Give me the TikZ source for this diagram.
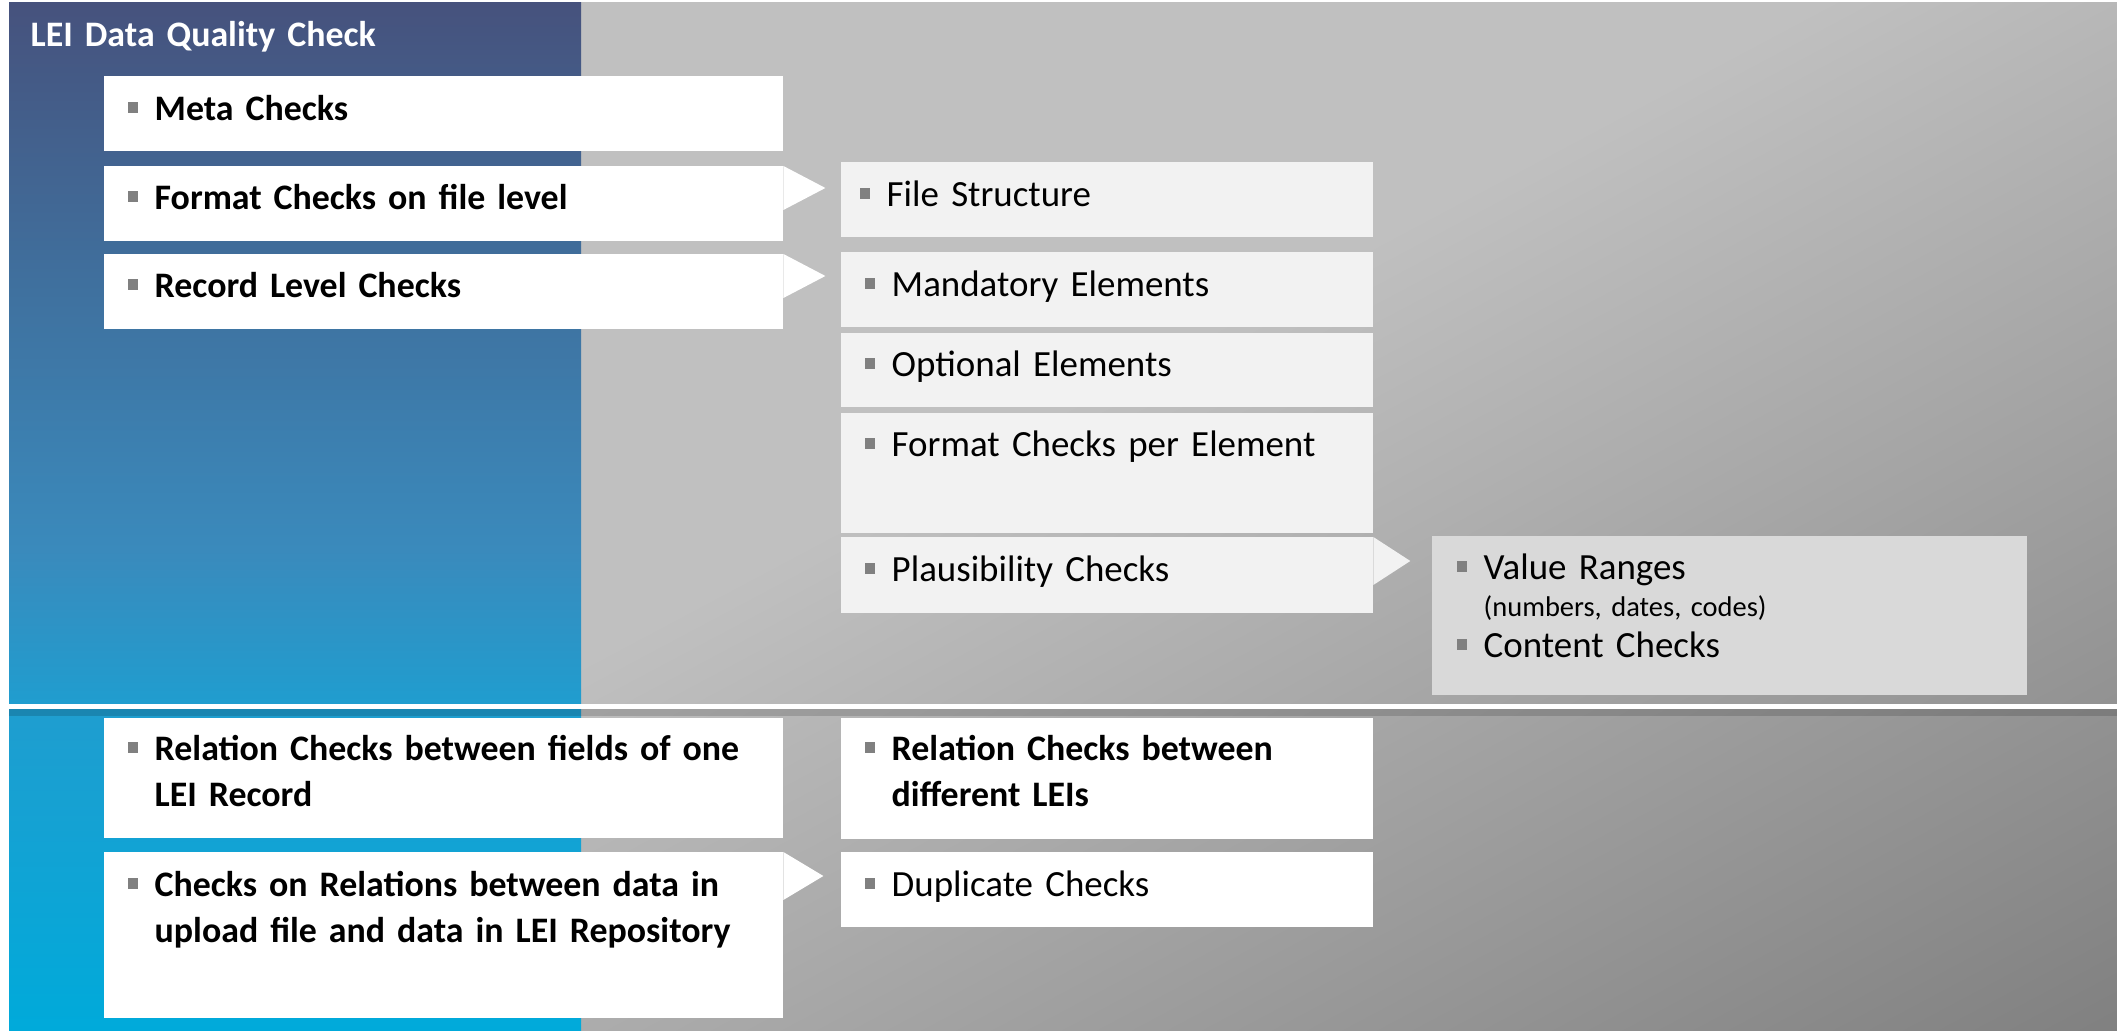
\documentclass[tikz,border=0pt]{standalone}
\usepackage{fontspec}
\setmainfont{Carlito}
\usetikzlibrary{calc}

\definecolor{panela}{RGB}{70,82,125}
\definecolor{panelb}{RGB}{63,114,160}
\definecolor{panelc}{RGB}{58,138,188}
\definecolor{paneld}{RGB}{32,157,207}
\definecolor{panele}{RGB}{0,170,218}
\definecolor{bglight}{RGB}{192,192,192}
\definecolor{bgdark}{RGB}{128,128,128}
\definecolor{subbox}{RGB}{242,242,242}
\definecolor{valbox}{RGB}{217,217,217}
\definecolor{bulgray}{RGB}{128,128,128}

\pgfdeclarehorizontalshading{bgshade}{100bp}{color(0bp)=(bglight); color(48bp)=(bglight); color(70bp)=(bgdark); color(100bp)=(bgdark)}
\pgfdeclareverticalshading{panelshade}{100bp}{color(0bp)=(panele); color(25bp)=(panele); color(41bp)=(paneld); color(48.4bp)=(panelc); color(60.5bp)=(panelb); color(75bp)=(panela); color(100bp)=(panela)}

\newcommand{\bul}{\makebox[0pt][r]{\textcolor{bulgray}{\rule[2.3pt]{2.85pt}{3.1pt}}\hspace{0.17cm}}}
\def\tabarrow[#1](#2)(#3:#4){\fill[#1] (#2.north east) -- ++(#3,#4) -- ++(-#3,#4) -- cycle;}

\tikzset{
  box/.style={rectangle, inner sep=0pt, outer sep=0pt, anchor=north west, fill=white},
  wide/.style={box, minimum width=6.79cm},
  narrow/.style={box, minimum width=5.32cm},
  sub/.style={narrow, fill=subbox},
  txt/.style={anchor=base west, inner sep=0pt, text width=6.5cm, align=left, font=\fontsize{10.5}{13}\selectfont},
  btxt/.style={txt, font=\fontsize{10.2}{13}\bfseries\selectfont},
}

\begin{document}
\begin{tikzpicture}[x=0.01cm, y=-0.01cm]
			%%%%% BACKGROUND %%%%%
			\useasboundingbox[fill=white] (0,0) rectangle (2117,1031);
			\begin{scope}
				\clip (9,3) rectangle (2117,1031);
				\shade[shading=bgshade, shading angle=-62] (-141.5,-684.5) rectangle (2258.5,1715.5);
			\end{scope}
			\shade[shading=panelshade] (9,3) rectangle (581,1031);
			
			\node[btxt, text=white] (title) at (30,47) {LEI Data Quality Check};
			
			%%%%% UPPER PART %%%%%
			\node[wide, minimum height=0.75cm] (meta) at (104,76) {};
			\node[btxt] (metat) at ($(meta.north west)+(50,45)$) {\bul Meta Checks};
			
			\node[wide, minimum height=0.75cm] (fmtfile) at (104,166) {};
			\tabarrow[white](fmtfile)(42:22)
			\node[btxt] (fmtfilet) at ($(fmtfile.north west)+(50,44)$) {\bul Format Checks on file level};
			
			\node[wide, minimum height=0.75cm] (record) at (104,254) {};
			\tabarrow[white](record)(42:22)
			\node[btxt] (recordt) at ($(record.north west)+(50,44)$) {\bul Record Level Checks};
			
			\node[sub, minimum height=0.75cm] (filestr) at (841,162) {};
			\node[txt] (filestrt) at ($(filestr.north west)+(45,45)$) {\bul File Structure};
			
			\node[sub, minimum height=0.75cm] (mand) at (841,252) {};
			\node[txt] (mandt) at ($(mand.north west)+(50,45)$) {\bul Mandatory Elements};
			
			\node[sub, minimum height=0.74cm] (opt) at (841,333) {};
			\node[txt] (optt) at ($(opt.north west)+(50,44)$) {\bul Optional Elements};
			
			\node[sub, minimum height=1.2cm] (fmtelem) at (841,413) {};
			\node[txt] (fmtelemt) at ($(fmtelem.north west)+(50,44)$) {\bul Format Checks per Element};
			
			\node[sub, minimum height=0.76cm] (plaus) at (841,537) {};
			\tabarrow[subbox](plaus)(37:24)
			\node[txt] (plaust) at ($(plaus.north west)+(50,45)$) {\bul Plausibility Checks};
			
			\node[box, fill=valbox, minimum width=5.95cm, minimum height=1.59cm] (values) at (1432,536) {};
			\node[txt] (valuest) at ($(values.north west)+(51,44)$) {\bul Value Ranges};
			\node[txt, font=\fontsize{8.1}{10}\selectfont] (valuesn) at ($(values.north west)+(51,81)$) {(numbers, dates, codes)};
			\node[txt] (contentt) at ($(values.north west)+(51,122)$) {\bul Content Checks};
			
			%%%%% SEPARATOR %%%%%
			\fill[black, opacity=0.15] (9,709) rectangle (2117,716);
			\fill[white] (4,704) rectangle (2117,709);
			
			%%%%% LOWER PART %%%%%
			\node[wide, minimum height=1.2cm] (relfld) at (104,718) {};
			\node[btxt] (relfldt) at ($(relfld.north west)+(50,43)$) {\bul Relation Checks between fields of one\\LEI Record};
			
			\node[narrow, minimum height=1.21cm] (rellei) at (841,718) {};
			\node[btxt] (releit) at ($(rellei.north west)+(50,43)$) {\bul Relation Checks between\\different LEIs};
			
			\node[wide, minimum height=1.66cm] (relrep) at (104,852) {};
			\tabarrow[white](relrep)(40:24)
			\node[btxt] (relrept) at ($(relrep.north west)+(50,45)$) {\bul Checks on Relations between data in\\upload file and data in LEI Repository};
			
			\node[narrow, minimum height=0.75cm] (dupl) at (841,852) {};
			\node[txt] (duplt) at ($(dupl.north west)+(50,45)$) {\bul Duplicate Checks};
\end{tikzpicture}
\end{document}
